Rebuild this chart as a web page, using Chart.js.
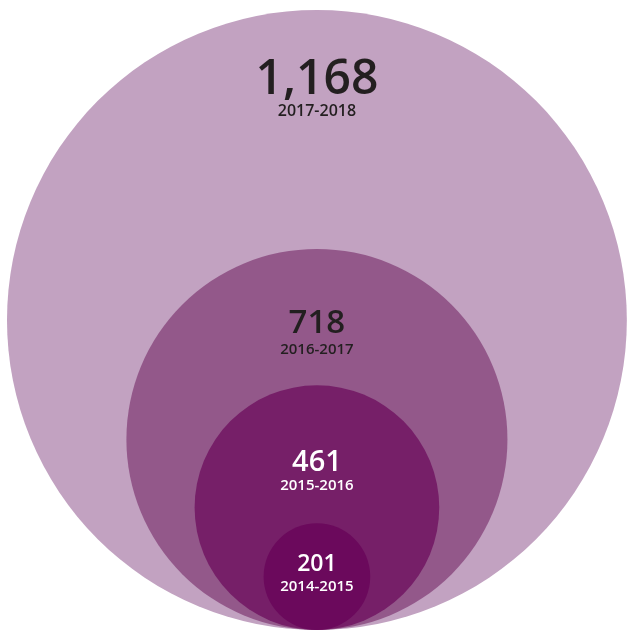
<!DOCTYPE html>
<html>
<head>
<meta charset="utf-8">
<script src="https://cdn.jsdelivr.net/npm/chart.js"></script>
<style>
html,body{margin:0;padding:0;background:#fff;}
#wrap{width:628px;height:631px;}
</style>
</head>
<body>
<div id="wrap"><canvas id="c" width="628" height="631"></canvas></div>
<script>
const categories = ['2017-2018', '2016-2017', '2015-2016', '2014-2015'];
const values = [1168, 718, 461, 201];
const valueLabels = ['1,168', '718', '461', '201'];

const fills = ['#c2a2c1', '#93588a', '#761f68', '#6b095c'];
const textColors = ['#231f20', '#231f20', '#ffffff', '#ffffff'];
const numFont = [48, 33, 29, 23];
const yearFont = [16, 15, 15, 15];
const numOffset = [84, 84, 86, 48];
const yearOffset = [106, 105, 105, 68];

const FONT = '"Open Sans", Lato, sans-serif';
const Y_MIN = -4, Y_MAX = 2374;

const labelPlugin = {
  id: 'circleLabels',
  afterDatasetsDraw(chart) {
    const ctx = chart.ctx;
    const meta = chart.getDatasetMeta(0);
    ctx.save();
    ctx.textAlign = 'center';
    ctx.textBaseline = 'alphabetic';
    meta.data.forEach((el, i) => {
      const top = el.y - el.options.radius;
      ctx.fillStyle = textColors[i];
      ctx.font = '600 ' + numFont[i] + 'px ' + FONT;
      ctx.fillText(valueLabels[i], el.x, top + numOffset[i]);
      ctx.font = '600 ' + yearFont[i] + 'px ' + FONT;
      ctx.fillText(categories[i], el.x, top + yearOffset[i]);
    });
    ctx.restore();
  }
};

// Radius in pixels = the value measured along the y scale (each circle rests on y = 0).
function radiusFor(c) {
  if (c.dataIndex === undefined || !c.raw) return 0;
  const v = c.raw.y;
  const s = c.chart.scales && c.chart.scales.y;
  if (s) {
    const r = Math.abs(s.getPixelForValue(v) - s.getPixelForValue(0));
    if (isFinite(r) && r > 0) return r;
  }
  // before layout (bubble data parsing): same mapping from the y range and canvas height
  return v / (Y_MAX - Y_MIN) * c.chart.height;
}

new Chart(document.getElementById('c'), {
  type: 'bubble',
  data: {
    labels: categories,
    datasets: [{
      data: values.map(v => ({ x: 0, y: v })),
      backgroundColor: fills,
      hoverBackgroundColor: fills,
      borderWidth: 0,
      hoverBorderWidth: 0,
      radius: radiusFor,
      hoverRadius: 0,
      clip: false
    }]
  },
  options: {
    responsive: false,
    animation: false,
    layout: { autoPadding: false, padding: 0 },
    plugins: { legend: { display: false }, tooltip: { enabled: false } },
    scales: {
      x: { display: false, min: -1194, max: 1172 },
      y: { display: false, min: Y_MIN, max: Y_MAX }
    }
  },
  plugins: [labelPlugin]
});
</script>
</body>
</html>
